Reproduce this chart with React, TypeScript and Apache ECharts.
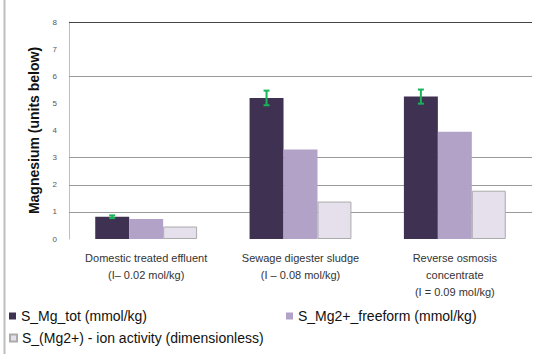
import React, { useEffect, useRef } from "react";
import * as echarts from "echarts";

const categories = [
  "Domestic treated effluent\n(I– 0.02 mol/kg)",
  "Sewage digester sludge\n(I – 0.08 mol/kg)",
  "Reverse osmosis\nconcentrate\n(I = 0.09 mol/kg)",
];
const seriesNames = [
  "S_Mg_tot (mmol/kg)",
  "S_Mg2+_freeform (mmol/kg)",
  "S_(Mg2+) - ion activity (dimensionless)",
];
const mgTot = [0.82, 5.2, 5.25];
const mgFree = [0.74, 3.3, 3.95];
const mgActivity = [0.46, 1.38, 1.78];
const mgTotErr = [0.05, 0.27, 0.26];
const gridLevels = [1, 2, 3, 6];
const topLevel = 8;

const FONT = "'Liberation Sans', Arial, sans-serif";
const BAR_FRAC = 0.22;

export default function App() {
  const ref = useRef<HTMLDivElement>(null);
  useEffect(() => {
    if (!ref.current) return;
    const chart = echarts.init(ref.current, undefined, { renderer: "svg" });
    const errData = mgTot.map((v, i) => [i, v - mgTotErr[i], v + mgTotErr[i]]);
    const legendText = { fontSize: 14, color: "#111", fontFamily: FONT };
    chart.setOption({
      animation: false,
      backgroundColor: "#ffffff",
      textStyle: { fontFamily: FONT },
      grid: { left: 69, right: 1, top: 22, bottom: 115 },
      legend: [
        {
          data: [seriesNames[0]],
          left: 4,
          top: 304,
          icon: "rect",
          itemWidth: 7,
          itemHeight: 7,
          itemGap: 4,
          textStyle: legendText,
          selectedMode: false,
        },
        {
          data: [seriesNames[1]],
          left: 281,
          top: 304,
          icon: "rect",
          itemWidth: 7,
          itemHeight: 7,
          textStyle: legendText,
          selectedMode: false,
        },
        {
          data: [seriesNames[2]],
          left: 4,
          top: 326,
          icon: "rect",
          itemWidth: 7,
          itemHeight: 7,
          textStyle: legendText,
          selectedMode: false,
        },
      ],
      xAxis: {
        type: "category",
        data: categories,
        axisLine: { show: false },
        axisTick: { show: false },
        axisLabel: {
          interval: 0,
          fontSize: 11,
          lineHeight: 17,
          color: "#333",
          margin: 10,
          fontFamily: FONT,
        },
      },
      yAxis: {
        type: "value",
        min: 0,
        max: 8,
        interval: 1,
        name: "Magnesium (units below)",
        nameLocation: "middle",
        nameGap: 28,
        nameRotate: 90,
        nameTextStyle: { fontSize: 14, fontWeight: "bold", color: "#111", fontFamily: FONT },
        splitLine: { show: false },
        axisLine: { show: true, lineStyle: { color: "#bdbdbd", width: 1 } },
        axisTick: { show: false },
        axisLabel: { fontSize: 8, color: "#555", margin: 12 },
      },
      series: [
        {
          name: seriesNames[0],
          type: "bar",
          data: mgTot,
          barWidth: BAR_FRAC * 100 + "%",
          barGap: "0%",
          itemStyle: { color: "#3f3151" },
          markLine: {
            silent: true,
            symbol: "none",
            z: 1,
            label: { show: false },
            data: [
              ...gridLevels.map((y) => ({ yAxis: y, lineStyle: { color: "#9a9a9a", width: 1, type: "solid" } })),
              { yAxis: topLevel, lineStyle: { color: "#444", width: 1.2, type: "solid" } },
            ],
          },
        },
        {
          name: seriesNames[1],
          type: "bar",
          data: mgFree,
          barWidth: BAR_FRAC * 100 + "%",
          barGap: "0%",
          itemStyle: { color: "#b2a2c7" },
        },
        {
          name: seriesNames[2],
          type: "bar",
          data: mgActivity,
          barWidth: BAR_FRAC * 100 + "%",
          barGap: "0%",
          itemStyle: { color: "#e5e0ec", borderColor: "#ababab", borderWidth: 1 },
        },
        {
          type: "custom",
          name: "err",
          z: 10,
          data: errData,
          encode: { x: 0, y: [1, 2] },
          renderItem: (params: any, api: any) => {
            const idx = api.value(0);
            const lo = api.coord([idx, api.value(1)]);
            const hi = api.coord([idx, api.value(2)]);
            const off = api.size([1, 0])[0] * BAR_FRAC;
            const x = lo[0] - off;
            const cap = 3;
            const style = { stroke: "#19b35a", lineWidth: 2 };
            return {
              type: "group",
              children: [
                { type: "line", shape: { x1: x, y1: hi[1], x2: x, y2: lo[1] }, style },
                { type: "line", shape: { x1: x - cap, y1: hi[1], x2: x + cap, y2: hi[1] }, style },
                { type: "line", shape: { x1: x - cap, y1: lo[1], x2: x + cap, y2: lo[1] }, style },
              ],
            };
          },
        },
      ],
      graphic: [
        {
          type: "line",
          shape: { x1: 4.5, y1: 0, x2: 4.5, y2: 354 },
          style: { stroke: "#bdbdbd", lineWidth: 2 },
        },
      ],
    });
    return () => chart.dispose();
  }, []);
  return <div ref={ref} style={{ width: 533, height: 354, position: "absolute", left: 0, top: 0 }} />;
}
